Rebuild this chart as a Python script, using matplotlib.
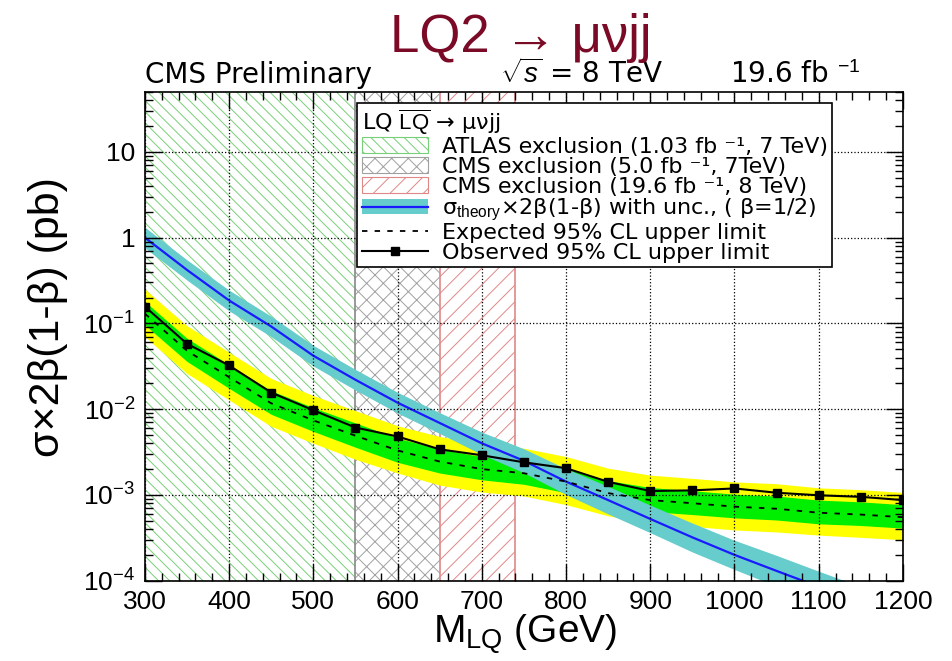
import numpy as np
import matplotlib
matplotlib.use('Agg')
import matplotlib.pyplot as plt
from matplotlib.patches import Patch
from matplotlib.lines import Line2D
from matplotlib.ticker import MultipleLocator, LogLocator, NullFormatter

plt.rcParams['font.family'] = ['Liberation Sans', 'DejaVu Sans']
plt.rcParams['mathtext.fontset'] = 'custom'
plt.rcParams['mathtext.rm'] = 'Liberation Sans'
plt.rcParams['mathtext.it'] = 'Liberation Sans:italic'
plt.rcParams['mathtext.bf'] = 'Liberation Sans:bold'
plt.rcParams['hatch.linewidth'] = 0.7

# LQ mass points (GeV)
mass = [300, 350, 400, 450, 500, 550, 600, 650, 700, 750,
        800, 850, 900, 950, 1000, 1050, 1100, 1150, 1200]

# theory cross section x 2beta(1-beta), pb
theory = [1.0, 0.42, 0.185, 0.092, 0.042, 0.022, 0.0119, 0.0069, 0.0040, 0.0025,
          0.00143, 0.00087, 0.000525, 0.00032, 0.0002, 0.00013, 0.000085, 0.000055, 0.000035]
theory_hi = [1.32, 0.55, 0.244, 0.121, 0.0554, 0.029, 0.0157, 0.0091, 0.0054, 0.00345,
             0.00202, 0.00126, 0.00076, 0.00047, 0.000296, 0.000197, 0.000129, 0.0000852, 0.0000542]
theory_lo = [0.76, 0.32, 0.140, 0.070, 0.0318, 0.0167, 0.0090, 0.0052, 0.00296, 0.00181,
             0.00101, 0.00060, 0.000363, 0.000216, 0.000135, 0.000086, 0.0000562, 0.0000355, 0.0000226]

# expected limit and bands
expected = [0.13, 0.048, 0.0236, 0.0117, 0.0074, 0.0049, 0.0033, 0.00245, 0.0020, 0.00179,
            0.00143, 0.00105, 0.00087, 0.0008, 0.00073, 0.00069, 0.00062, 0.00059, 0.00055]
exp_p2 = [0.25, 0.094, 0.046, 0.0228, 0.0144, 0.0096, 0.0064, 0.0048, 0.0039, 0.0035,
          0.0028, 0.00205, 0.0017, 0.00156, 0.00142, 0.00135, 0.00121, 0.00115, 0.00107]
exp_p1 = [0.18, 0.067, 0.033, 0.0164, 0.0104, 0.0069, 0.0046, 0.0034, 0.0028, 0.0025,
          0.0020, 0.00147, 0.00122, 0.00112, 0.00102, 0.00097, 0.00087, 0.00083, 0.00077]
exp_m1 = [0.096, 0.036, 0.0175, 0.0087, 0.0055, 0.0036, 0.0024, 0.0018, 0.0015, 0.00133,
          0.00106, 0.00078, 0.00064, 0.00059, 0.00054, 0.00051, 0.00046, 0.00044, 0.00041]
exp_m2 = [0.070, 0.026, 0.0128, 0.0063, 0.0040, 0.0026, 0.0018, 0.0013, 0.00108, 0.00097,
          0.00077, 0.00057, 0.00047, 0.00043, 0.00039, 0.00037, 0.00034, 0.00032, 0.0003]

# observed limit
observed = [0.157, 0.0578, 0.0323, 0.0156, 0.0097, 0.0061, 0.0048, 0.0034, 0.0029, 0.0024,
            0.00205, 0.00142, 0.00111, 0.00113, 0.00119, 0.00106, 0.00099, 0.00095, 0.00087]

# previous exclusions (GeV)
atlas_excl = (300, 550)
cms7_excl = (550, 650)
cms8_excl = (650, 740)

fig = plt.figure(figsize=(9.53, 6.61), dpi=100)
ax = fig.add_axes([0.152, 0.1215, 0.7955, 0.7395])

c_atlas, c_cms7, c_cms8 = '#77d077', '#a0a0a0', '#e08888'
h_atlas, h_cms7, h_cms8 = '\\\\\\', 'xx', '//'
ax.axvspan(*atlas_excl, facecolor='none', edgecolor=c_atlas, hatch=h_atlas, lw=0, zorder=1)
ax.axvspan(*cms7_excl, facecolor='none', edgecolor=c_cms7, hatch=h_cms7, lw=0, zorder=1)
ax.axvspan(*cms8_excl, facecolor='none', edgecolor=c_cms8, hatch=h_cms8, lw=0, zorder=1)
ax.axvline(cms7_excl[0], color='#888888', lw=1.2, zorder=1.1)
ax.axvline(cms8_excl[0], color=c_cms8, lw=1.2, zorder=1.1)
ax.axvline(cms8_excl[1], color=c_cms8, lw=1.2, zorder=1.1)

ax.fill_between(mass, exp_m2, exp_p2, color='#ffff00', lw=0, zorder=1.2)
ax.fill_between(mass, exp_m1, exp_p1, color='#00ee00', lw=0, zorder=1.4)
ax.fill_between(mass, theory_lo, theory_hi, color='#66cccc', lw=0, zorder=1.6)
ax.plot(mass, theory, color='#1a1aff', lw=1.6, zorder=1.8)
ax.plot(mass, expected, color='black', ls=(0, (3, 4)), lw=1.3, zorder=3)
ax.plot(mass, observed, color='black', lw=1.5, marker='s', ms=6, zorder=3.5)

ax.set_yscale('log')
ax.set_xlim(300, 1200)
ax.set_ylim(1e-4, 50)
ax.set_axisbelow(False)
ax.grid(True, which='major', ls=':', color='black', lw=0.9)

ax.xaxis.set_major_locator(MultipleLocator(100))
ax.xaxis.set_minor_locator(MultipleLocator(20))
ax.set_yticks([1e-4, 1e-3, 1e-2, 1e-1, 1, 10],
              labels=['$10^{-4}$', '$10^{-3}$', '$10^{-2}$', '$10^{-1}$', '1', '10'])
ax.yaxis.set_minor_locator(LogLocator(base=10, subs=np.arange(2, 10), numticks=20))
ax.yaxis.set_minor_formatter(NullFormatter())
ax.tick_params(which='both', direction='in', top=True, right=True, labelsize=19, width=1)
ax.tick_params(which='major', length=12, pad=7)
ax.tick_params(which='minor', length=6)
for s in ax.spines.values():
    s.set_linewidth(1.2)

ax.set_ylabel('σ×2β(1-β) (pb)', fontsize=31)
ax.yaxis.set_label_coords(-0.102, 0.54)
fig.text(0.551, 0.027, 'M$_{\\rm LQ}$ (GeV)', fontsize=28, ha='center', va='baseline')

handles = [
    Patch(facecolor='white', edgecolor=c_atlas, hatch=h_atlas, lw=0.8),
    Patch(facecolor='white', edgecolor=c_cms7, hatch=h_cms7, lw=0.8),
    Patch(facecolor='white', edgecolor=c_cms8, hatch=h_cms8, lw=0.8),
    (Patch(facecolor='#66cccc', lw=0), Line2D([], [], color='#1a1aff', lw=1.6)),
    Line2D([], [], color='black', ls=(0, (3, 4)), lw=1.3),
    Line2D([], [], color='black', lw=1.5, marker='s', ms=6),
]
labels = [
    'ATLAS exclusion (1.03 fb ⁻¹, 7 TeV)',
    'CMS exclusion (5.0 fb ⁻¹, 7TeV)',
    'CMS exclusion (19.6 fb ⁻¹, 8 TeV)',
    'σ$_{\\rm theory}$×2β(1-β) with unc., ( β=1/2)',
    'Expected 95% CL upper limit',
    'Observed 95% CL upper limit',
]
leg_font = {'family': ['DejaVu Sans'], 'size': 16}
leg = ax.legend(handles, labels, loc='upper left', bbox_to_anchor=(0.28, 0.977),
                prop=leg_font, title='LQ $\\overline{\\rm LQ}$ → μνjj',
                title_fontproperties=leg_font,
                alignment='left', fancybox=False, framealpha=1, edgecolor='black',
                borderaxespad=0, handlelength=3.0, handleheight=0.7, labelspacing=0.0,
                handletextpad=0.6, borderpad=0.2)
leg.get_frame().set_linewidth(1.2)
leg.set_zorder(10)

head = {'family': ['DejaVu Sans'], 'fontsize': 20, 'va': 'baseline'}
fig.text(0.152, 0.874, 'CMS Preliminary', **head)
fig.text(0.525, 0.874, '$\\sqrt{s}$ = 8 TeV', **head)
fig.text(0.766, 0.874, '19.6 fb $^{-1}$', **head)
fig.text(0.546, 0.943, 'LQ2 → μνjj', fontsize=38, color='#7a0a26', ha='center', va='center')

fig.savefig('out.png', dpi=100)
